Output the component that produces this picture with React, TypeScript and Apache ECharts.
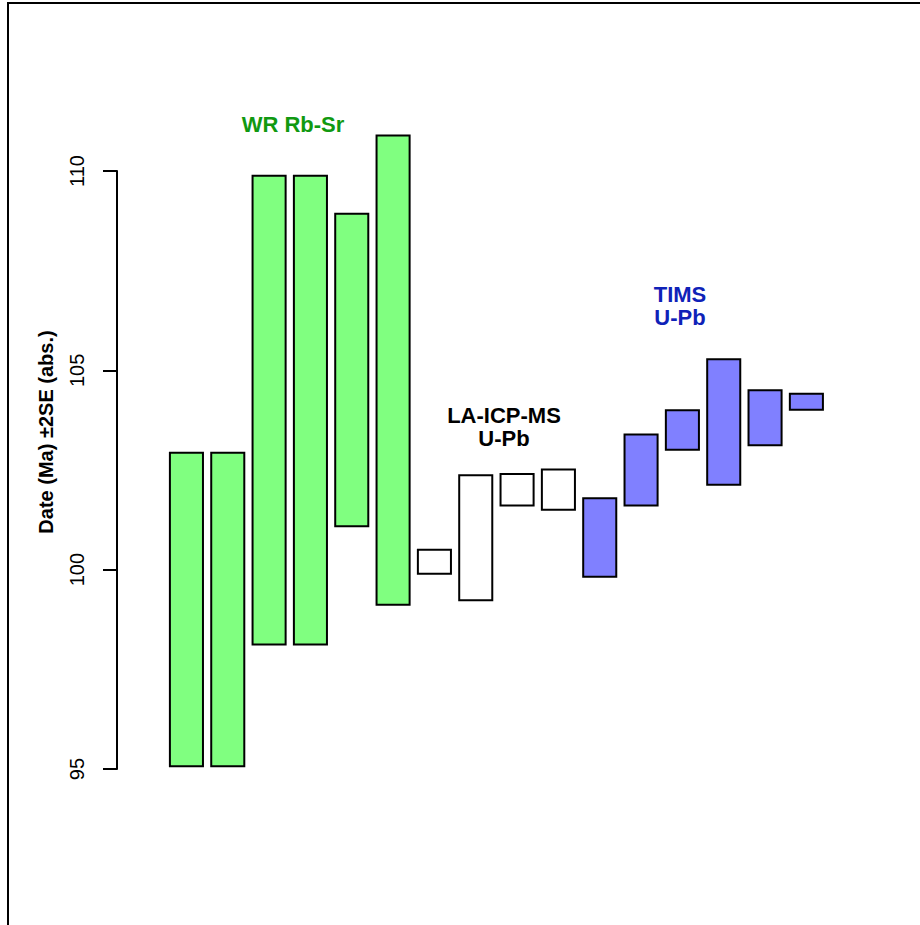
import React, { useEffect, useRef } from 'react';
import * as echarts from 'echarts';

// ---- data (Ma, ±2SE lower / upper bounds) ----
const wrLow = [95.07, 95.07, 98.12, 98.12, 101.09, 99.12];
const wrHigh = [102.93, 102.93, 109.88, 109.88, 108.93, 110.89];
const laLow = [99.9, 99.23, 101.61, 101.5];
const laHigh = [100.5, 102.37, 102.4, 102.51];
const timsLow = [99.82, 101.61, 103.01, 102.13, 103.12, 104.01];
const timsHigh = [101.79, 103.39, 104.0, 105.28, 104.5, 104.41];
const yTicks = [95, 100, 105, 110];
const groupLabels = ['WR Rb-Sr', 'LA-ICP-MS\nU-Pb', 'TIMS\nU-Pb'];
const axisTitle = 'Date (Ma) ±2SE (abs.)';

const FONT = '"Liberation Sans", Arial, Helvetica, sans-serif';

function buildData(lows: number[], highs: number[], start: number) {
  return lows.map((lo, i) => [start + i, lo, highs[i]]);
}

export default function App() {
  const ref = useRef<HTMLDivElement>(null);
  useEffect(() => {
    if (!ref.current) return;
    const chart = echarts.init(ref.current, undefined, { renderer: 'svg' });
    const wrData = buildData(wrLow, wrHigh, 1);
    const laData = buildData(laLow, laHigh, 1 + wrLow.length);
    const timsData = buildData(timsLow, timsHigh, 1 + wrLow.length + laLow.length);

    const makeSeries = (data: number[][], fill: string) => ({
      type: 'custom',
      clip: false,
      data,
      encode: { x: 0, y: [1, 2] },
      renderItem: (params: any, api: any) => {
        const x = api.value(0);
        const lo = api.value(1);
        const hi = api.value(2);
        const p1 = api.coord([x - 0.4, hi]);
        const p2 = api.coord([x + 0.4, lo]);
        return {
          type: 'rect',
          shape: { x: p1[0], y: p1[1], width: p2[0] - p1[0], height: p2[1] - p1[1] },
          style: { fill, stroke: '#000', lineWidth: 2 },
        };
      },
    });

    chart.setOption({
      animation: false,
      backgroundColor: '#fff',
      grid: {
        left: 117,
        top: 171,
        width: 826.6,
        height: 598,
        containLabel: false,
        outerBoundsMode: 'none',
      },
      xAxis: { type: 'value', min: -0.68, max: 19.32, show: false },
      yAxis: {
        type: 'value',
        min: yTicks[0],
        max: yTicks[yTicks.length - 1],
        interval: 5,
        splitLine: { show: false },
        axisLine: { show: true, onZero: false, lineStyle: { color: '#000', width: 2 } },
        axisTick: { show: true, length: 14, lineStyle: { color: '#000', width: 2 } },
        axisLabel: {
          rotate: 90,
          margin: 30,
          fontSize: 20,
          fontFamily: FONT,
          color: '#000',
        },
      },
      series: [
        makeSeries(wrData, '#80ff80'),
        makeSeries(laData, '#ffffff'),
        makeSeries(timsData, '#8080ff'),
      ],
      graphic: [
        {
          type: 'rect',
          silent: true,
          shape: { x: 8, y: 3, width: 1100, height: 1100 },
          style: { fill: 'none', stroke: '#000', lineWidth: 2 },
          z: 10,
        },
        {
          type: 'text',
          x: 46,
          y: 432,
          rotation: Math.PI / 2,
          style: {
            text: axisTitle,
            font: `bold 20px ${FONT}`,
            fill: '#000',
            align: 'center',
            verticalAlign: 'middle',
          },
        },
        {
          type: 'text',
          x: 293,
          y: 124,
          style: {
            text: groupLabels[0],
            font: `bold 22px ${FONT}`,
            fill: '#119911',
            align: 'center',
            verticalAlign: 'middle',
          },
        },
        {
          type: 'text',
          x: 504,
          y: 427,
          style: {
            text: groupLabels[1],
            font: `bold 22px ${FONT}`,
            lineHeight: 23,
            fill: '#000',
            align: 'center',
            verticalAlign: 'middle',
          },
        },
        {
          type: 'text',
          x: 680,
          y: 306,
          style: {
            text: groupLabels[2],
            font: `bold 22px ${FONT}`,
            lineHeight: 23,
            fill: '#0f22b8',
            align: 'center',
            verticalAlign: 'middle',
          },
        },
      ],
    });
    return () => chart.dispose();
  }, []);
  return (
    <div
      ref={ref}
      style={{ position: 'absolute', left: 0, top: 0, width: 920, height: 925, background: '#fff' }}
    />
  );
}
